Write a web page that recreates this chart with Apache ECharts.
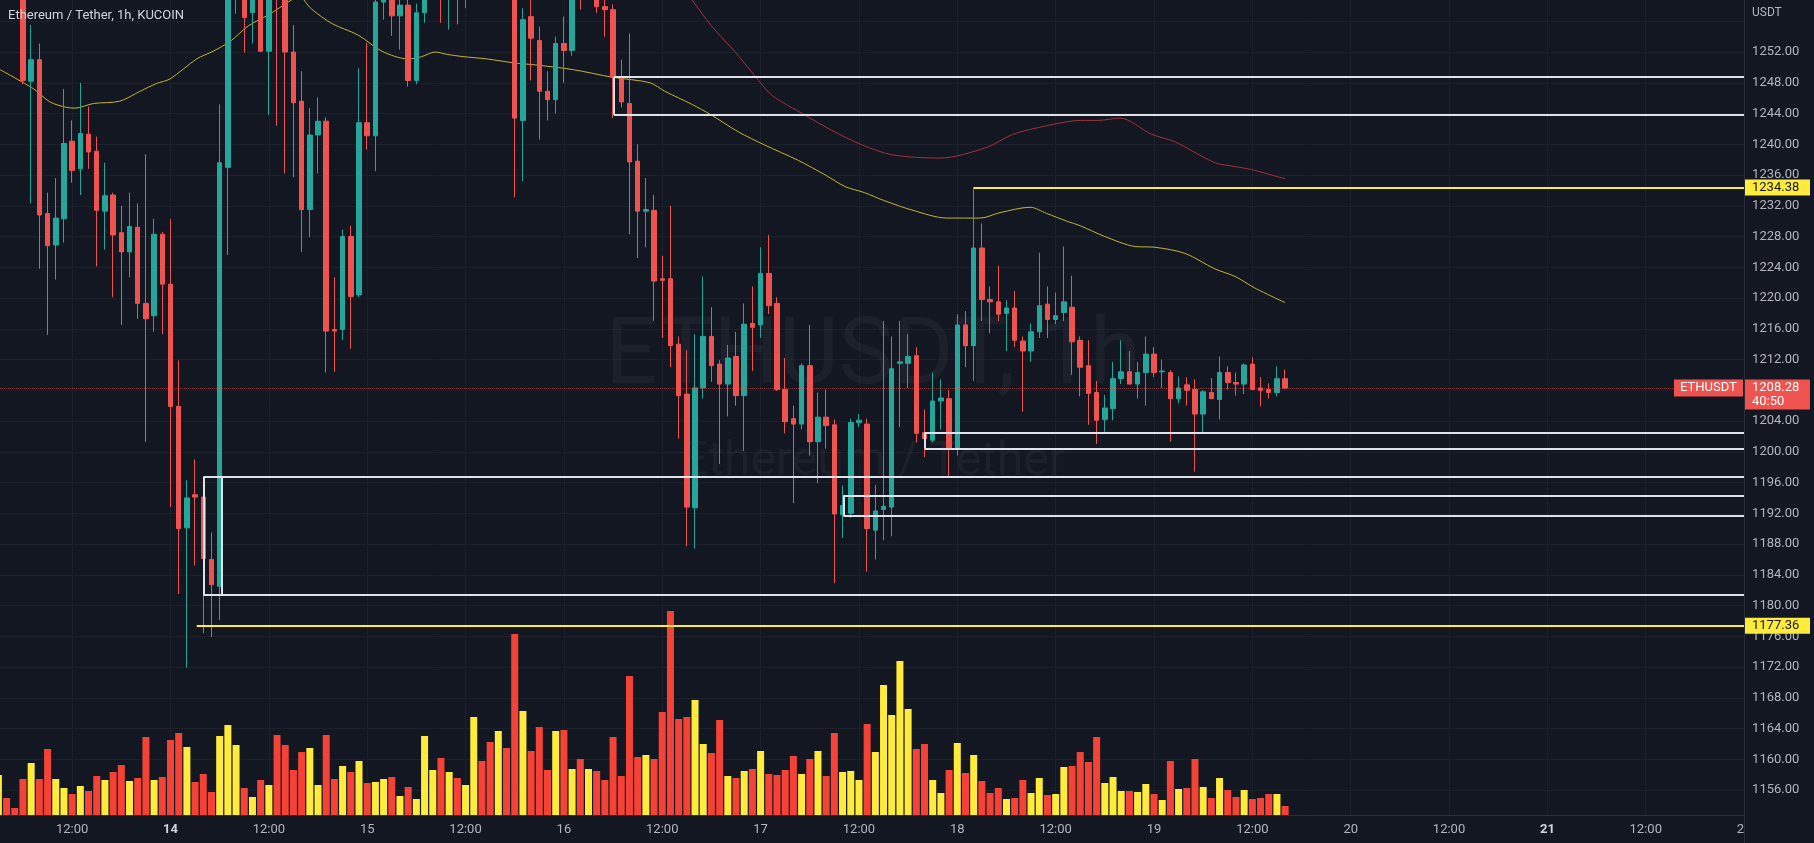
<!DOCTYPE html>
<html><head><meta charset="utf-8">
<script src="https://cdn.jsdelivr.net/npm/echarts@6/dist/echarts.min.js"></script>
<style>html,body{margin:0;padding:0;background:#131722;overflow:hidden}#c{width:1814px;height:843px}</style>
</head><body><div id="c"></div><script>
// ---------- DATA (hour 0 = Nov 14 00:00) ----------
const firstHour = -21;
const opens = [
1266,1270,1267,1264,1248.2,1251.0,1231.0,1226.9,1230.3,1240.4,
1236.8,1241.3,1239.1,1231.3,1233.4,1228.5,1226.0,1229.2,1219.3,1217.7,
1228.3,1221.8,1205.9,1190.1,1194.4,1194.1,1186.0,1182.5,1237.0,1262.0,
1266.5,1257.1,1263.0,1252.1,1264.0,1261.0,1252.0,1245.6,1231.5,1241.2,
1243.0,1215.9,1215.9,1228.0,1220.4,1242.8,1241.1,1258.5,1261.0,1256.7,
1258.1,1248.3,1257.1,1262.0,1266.0,1260.0,1263.0,1260.5,1264.0,1272.0,
1268.0,1263.0,1269.0,1264.0,1243.1,1256.6,1253.5,1246.9,1245.8,1253.1,
1252.2,1262.0,1260.0,1263.0,1257.9,1257.5,1248.6,1245.3,1237.8,1231.3,
1231.4,1222.5,1222.5,1214.0,1207.5,1192.7,1208.3,1215.0,1211.4,1208.8,
1212.4,1207.3,1216.7,1216.5,1223.2,1219.3,1208.1,1204.3,1203.6,1211.2,
1201.3,1204.5,1203.5,1191.8,1192.0,1203.8,1203.6,1189.8,1192.5,1192.8,
1211.5,1211.5,1212.5,1202.5,1201.5,1206.6,1206.9,1200.4,1216.5,1213.8,
1226.5,1219.8,1219.5,1218.0,1218.7,1214.4,1213.1,1215.6,1219.2,1217.2,
1218.1,1218.8,1214.5,1211.2,1207.7,1204.2,1205.6,1209.5,1210.4,1208.8,
1210.3,1212.7,1210.4,1210.3,1206.9,1208.7,1208.1,1204.9,1207.7,1206.8,
1210.3,1209.0,1208.8,1211.4,1208.3,1208.1,1207.7,1209.5];
const closes = [
1270,1267,1264,1248.3,1251.0,1230.8,1226.8,1230.4,1240.1,1236.6,
1241.4,1239.0,1231.4,1233.3,1228.2,1226.0,1229.3,1219.3,1217.3,1228.3,
1221.8,1205.9,1190.0,1194.0,1194.1,1186.1,1182.7,1237.6,1262.0,1266.5,
1256.5,1263.0,1252.1,1264.0,1261.0,1252.0,1245.4,1231.5,1241.2,1243.0,
1215.7,1215.7,1228.0,1220.2,1242.8,1241.1,1258.5,1261.0,1256.7,1258.1,
1248.3,1257.1,1262.0,1266.0,1260.0,1263.0,1260.5,1264.0,1272.0,1268.0,
1263.0,1269.0,1264.0,1243.4,1256.2,1253.8,1246.9,1245.8,1253.1,1252.2,
1262.0,1260.0,1263.0,1257.9,1257.5,1248.7,1245.5,1237.7,1231.3,1231.5,
1222.2,1222.3,1213.8,1207.3,1192.8,1208.3,1215.0,1211.2,1208.8,1212.2,
1207.3,1216.6,1216.2,1223.2,1219.0,1208.1,1203.9,1203.6,1211.2,1201.3,
1204.5,1203.4,1191.9,1193.0,1203.8,1204.1,1190.0,1192.3,1192.9,1210.8,
1211.7,1212.4,1202.4,1201.7,1206.6,1207.0,1200.4,1216.5,1213.8,1226.5,
1219.8,1219.5,1217.9,1218.7,1214.5,1213.1,1215.6,1219.0,1217.2,1217.7,
1219.5,1214.3,1211.0,1207.6,1204.1,1205.7,1209.5,1210.4,1208.8,1210.3,
1212.7,1210.3,1210.5,1206.9,1208.3,1208.0,1204.9,1207.8,1206.9,1210.3,
1209.0,1208.8,1211.3,1208.1,1208.0,1207.7,1209.5,1208.28];
const lows = [
1264,1265,1261,1247.8,1232.3,1223.8,1215.2,1222.4,1227.2,1235.0,
1233.4,1236.8,1224.1,1226.3,1220.1,1216.5,1222.7,1217.3,1201.3,1215.6,
1215.3,1192.8,1181.5,1171.9,1185.2,1176.4,1175.9,1178.1,1225.6,1257.0,
1251.9,1253.1,1252.0,1243.8,1242.4,1236.2,1235.7,1226.0,1227.9,1236.2,
1210.3,1210.4,1214.5,1213.4,1220.1,1239.3,1236.5,1256.2,1254.1,1252.3,
1247.5,1247.8,1255.8,1260.0,1255.8,1254.9,1255.6,1257.7,1262.0,1265.0,
1260.0,1261.0,1261.0,1233.1,1235.2,1248.3,1240.6,1243.1,1244.0,1248.0,
1251.5,1257.5,1259.2,1257.1,1254.0,1243.4,1244.8,1228.3,1225.2,1226.6,
1217.0,1214.8,1211.0,1201.7,1187.7,1187.4,1206.9,1209.1,1198.4,1204.6,
1206.0,1200.1,1210.5,1214.8,1217.9,1207.9,1202.4,1193.3,1202.9,1199.5,
1195.9,1200.4,1182.9,1188.8,1191.4,1203.2,1184.4,1186.0,1188.5,1189.0,
1203.2,1208.3,1201.2,1199.3,1201.2,1202.9,1196.8,1199.5,1211.0,1209.2,
1217.0,1215.4,1217.0,1213.1,1213.6,1205.2,1211.7,1214.8,1214.8,1216.6,
1217.0,1210.0,1207.2,1203.5,1201.0,1202.6,1204.1,1208.8,1208.8,1206.9,
1206.0,1209.7,1208.3,1201.3,1206.3,1206.0,1197.4,1202.4,1206.9,1204.2,
1208.1,1207.3,1207.5,1208.0,1205.9,1206.9,1207.2,1208.2];
const highs = [
1272,1273,1268,1265,1255.5,1253.1,1233.7,1235.6,1247.2,1243.1,
1248.0,1244.9,1241.0,1237.6,1233.7,1232.0,1233.7,1232.3,1238.7,1230.3,
1228.6,1230.3,1211.9,1196.3,1199.0,1195.0,1189.5,1245.2,1266.0,1270.0,
1268.0,1265.0,1264.5,1267.0,1266.0,1263.0,1255.5,1249.5,1244.7,1246.1,
1243.5,1222.7,1228.9,1229.4,1249.9,1253.2,1261.0,1263.0,1262.0,1261.0,
1260.0,1258.3,1264.0,1268.0,1267.0,1265.0,1264.0,1265.0,1274.0,1275.0,
1270.0,1272.0,1271.0,1266.0,1257.7,1260.0,1255.3,1249.5,1254.0,1256.6,
1264.0,1265.0,1264.5,1264.0,1260.0,1258.2,1251.0,1254.4,1240.0,1235.6,
1233.4,1225.5,1232.0,1215.0,1213.2,1215.3,1222.8,1218.8,1211.9,1213.9,
1215.6,1219.3,1221.5,1226.6,1228.2,1220.1,1212.2,1206.0,1211.5,1216.5,
1207.7,1208.1,1204.2,1195.6,1204.3,1204.9,1204.3,1195.7,1217.0,1215.0,
1217.0,1215.3,1213.6,1205.5,1210.3,1209.4,1208.0,1217.9,1218.3,1234.38,
1229.7,1221.5,1224.2,1219.7,1220.9,1215.0,1216.7,1225.9,1221.5,1220.7,
1226.7,1222.9,1215.0,1214.5,1209.2,1207.4,1211.7,1214.5,1213.1,1211.7,
1215.0,1213.6,1212.0,1210.6,1209.8,1209.7,1209.4,1208.0,1209.6,1212.4,
1211.1,1210.3,1211.5,1212.3,1209.7,1208.9,1211.1,1210.7];
const volumes = [
40,17,7,36,52,36,66,36,27,21,
29,24,39,35,43,50,34,37,78,35,
38,75,82,68,33,41,23,79,90,70,
27,18,35,30,80,70,45,63,67,30,
80,36,49,43,54,32,33,36,38,19,
28,16,79,45,57,43,37,30,98,54,
73,84,67,181,104,64,88,45,84,85,
46,56,46,44,35,78,39,139,58,60,
56,103,204,96,98,115,71,62,95,39,
37,44,46,64,41,40,45,59,41,56,
64,39,82,43,44,35,91,63,130,100,
154,106,66,71,35,22,45,72,42,60,
34,22,27,16,17,35,22,37,20,21,
48,49,63,53,78,32,38,24,24,23,
31,21,15,54,26,27,56,28,17,37,
25,18,25,16,17,21,21,9];

// moving averages (hour, price)
const maYellowHours = [-20.8,-16.7,-14.7,-12.7,-11.65,-9.4,-6.2,-3.7,-1.7,-0.06,3.2,5.2,7.3,9.5,11.9,14.8,15.6,17.2,19.7,22.9,25.8,29.0,30.65,32.3,33.7,35.7,38.6,41.8,44.7,49.15,54.0,58.5,60.3,63.6,66.0,69.3,72.5,76.6,79.9,82.3,84.7,87.0,90.6,94.7,98.8,101.2,104.9,106.9,109.35,111.0,114.0,117.7,120.1,123.8,127.4,129.9,132.3,136.0];
const maYellowValues = [1249.7,1247.2,1245.5,1244.8,1244.7,1245.3,1245.6,1246.9,1247.9,1248.5,1251.1,1252.1,1253.4,1255.4,1256.8,1258.8,1259.3,1257.6,1255.7,1254.2,1252.1,1251.1,1251.4,1252.0,1251.7,1251.4,1251.1,1250.6,1250.3,1249.7,1248.7,1248.0,1246.9,1245.2,1243.8,1241.6,1239.9,1237.9,1236.0,1234.5,1233.7,1232.7,1231.4,1230.4,1230.4,1231.1,1231.8,1231.0,1230.0,1229.4,1228.0,1226.7,1226.6,1225.8,1223.8,1222.8,1221.3,1219.4];
const maRedHours = [56,63.6,66.0,68.9,71.3,73.35,77.4,80.7,84.4,88.2,93.9,99.6,102.8,106.9,111.0,113.2,115.85,119.7,122.6,127.4,129.9,131.9,136.0];
const maRedValues = [1269,1258.8,1255.4,1252.0,1248.9,1246.4,1243.8,1241.8,1239.9,1238.6,1238.2,1239.6,1241.3,1242.4,1243.1,1243.1,1243.4,1241.3,1240.3,1237.6,1237.1,1236.7,1235.5];

// supply/demand zones (white), key levels (yellow)
const zoneTops = [1248.75, 1196.75, 1194.3, 1202.5];
const zoneBottoms = [1243.85, 1181.4, 1191.7, 1200.45];
const zoneStartHours = [54.1, 4.0, 82.1, 92.0];
const zoneEndHours = [null, 6.2, null, null];
const levelPrices = [1234.38, 1177.36];
const levelStartHours = [98.0, 3.2];
const lastPrice = 1208.28;
const lastCountdown = '40:50';
const symbolName = 'ETHUSDT';

// axis tick labels
const dayOfMonth = [13, 14, 15, 16, 17, 18, 19, 20, 21, 22]; // at hours -24, 0, 24, ...
const boldDays = [14, 21];
const titleText = 'Ethereum / Tether, 1h, KUCOIN';

// ---------- STYLE ----------
const BG = '#131722', UP = '#26a69a', DOWN = '#ef5350';
const VOL_UP = '#ffeb3b', VOL_DOWN = '#f44336';
const GRID_LINE = '#1c202b', TXT = '#b2b5be';
const X_MIN = -24, X_MAX = 192;
const GL = -26.2, GR = 69.9;

const hours = opens.map((_, i) => firstHour + i);
const candleData = hours.map((h, i) => [h, opens[i], closes[i], lows[i], highs[i]]);

const markData = [];
const zoneStyle = {color: '#dfe2e8', width: 2, type: 'solid'};
zoneTops.forEach((top, i) => {
  const s = zoneStartHours[i], b = zoneBottoms[i];
  markData.push([{coord: [s, top], lineStyle: zoneStyle}, {coord: [X_MAX, top]}]);
  markData.push([{coord: [s, b], lineStyle: zoneStyle}, {coord: [X_MAX, b]}]);
  markData.push([{coord: [s, top], lineStyle: zoneStyle}, {coord: [s, b]}]);
  if (zoneEndHours[i] != null) markData.push([{coord: [zoneEndHours[i], top], lineStyle: zoneStyle}, {coord: [zoneEndHours[i], b]}]);
});
levelPrices.forEach((p, i) => {
  markData.push([{coord: [levelStartHours[i], p], lineStyle: {color: '#ffeb3b', width: 2, type: 'solid'}}, {coord: [X_MAX, p]}]);
});
markData.push({yAxis: lastPrice, lineStyle: {color: 'rgba(239,83,80,0.6)', width: 1, type: 'dotted'}});

const chart = echarts.init(document.getElementById('c'));
const option = {
  backgroundColor: BG,
  animation: false,
  grid: [
    {left: GL, right: GR, top: -9.5, bottom: 22.25, containLabel: false, outerBoundsMode: 'none'},
    {left: GL, right: GR, top: 0, bottom: 28, containLabel: false, outerBoundsMode: 'none'}
  ],
  xAxis: [
    {type: 'value', gridIndex: 0, min: X_MIN, max: X_MAX, show: false},
    {type: 'value', gridIndex: 1, min: X_MIN, max: X_MAX, interval: 12,
     axisLine: {show: false}, axisTick: {show: false},
     splitLine: {show: true, lineStyle: {color: GRID_LINE, width: 1}},
     axisLabel: {color: TXT, fontSize: 13, fontFamily: 'Roboto', margin: 8, showMinLabel: true, showMaxLabel: true, hideOverlap: false,
       formatter: v => {
         const r = ((v % 24) + 24) % 24;
         if (r === 12) return '12:00';
         const d = dayOfMonth[Math.round((v + 24) / 24)];
         return boldDays.includes(d) ? '{b|' + d + '}' : String(d);
       },
       rich: {b: {color: '#d1d4dc', fontSize: 13, fontFamily: 'Roboto', fontWeight: 'bold'}}}}
  ],
  yAxis: [
    {type: 'value', gridIndex: 0, position: 'right', min: 1152, max: 1260, interval: 4,
     axisLine: {show: false}, axisTick: {show: false},
     splitLine: {show: true, showMinLine: false, showMaxLine: false, lineStyle: {color: GRID_LINE, width: 1}},
     axisLabel: {color: TXT, fontSize: 13, fontFamily: 'Roboto', margin: 8,
       formatter: v => (v < 1156 || v > 1252) ? '' : v.toFixed(2)}},
    {type: 'value', gridIndex: 1, min: 0, max: 815, show: false}
  ],
  series: [
    {type: 'bar', xAxisIndex: 1, yAxisIndex: 1, barWidth: 7, silent: true, z: 1,
     data: hours.map((h, i) => [h, volumes[i]]),
     itemStyle: {color: p => closes[p.dataIndex] >= opens[p.dataIndex] ? VOL_UP : VOL_DOWN}},
    {type: 'line', xAxisIndex: 0, yAxisIndex: 0, silent: true, z: 2, showSymbol: false, symbol: 'none', smooth: 0.3,
     data: maYellowHours.map((h, i) => [h, maYellowValues[i]]), lineStyle: {color: '#c4b432', width: 1}},
    {type: 'line', xAxisIndex: 0, yAxisIndex: 0, silent: true, z: 2, showSymbol: false, symbol: 'none', smooth: 0.3,
     data: maRedHours.map((h, i) => [h, maRedValues[i]]), lineStyle: {color: '#a2323b', width: 1}},
    {type: 'candlestick', xAxisIndex: 0, yAxisIndex: 0, silent: true, z: 3, barWidth: 5,
     data: candleData, encode: {x: 0, y: [1, 2, 3, 4]},
     itemStyle: {color: UP, color0: DOWN, borderColor: UP, borderColor0: DOWN, borderWidth: 1},
     markLine: {silent: true, symbol: ['none', 'none'], animation: false, label: {show: false},
       emphasis: {disabled: true}, data: markData}}
  ]
};
chart.setOption(option);

const py = v => chart.convertToPixel({yAxisIndex: 0}, v);
const g = [];
g.push({type: 'text', x: 873, y: 360, z: 0, silent: true,
  style: {text: symbolName + ', 1h', fill: 'rgba(255,255,255,0.04)', font: '92px Roboto', align: 'center', verticalAlign: 'middle'}});
g.push({type: 'text', x: 873, y: 463, z: 0, silent: true,
  style: {text: 'Ethereum / Tether', fill: 'rgba(255,255,255,0.04)', font: '48px Roboto', align: 'center', verticalAlign: 'middle'}});
g.push({type: 'text', x: 8, y: 16, z: 100, silent: true,
  style: {text: titleText, fill: '#d1d4dc', font: '13px Roboto', align: 'left', verticalAlign: 'middle'}});
g.push({type: 'text', x: 1752, y: 13, z: 100, silent: true,
  style: {text: 'USDT', fill: TXT, font: '12px Roboto', align: 'left', verticalAlign: 'middle'}});
g.push({type: 'rect', z: 90, silent: true, shape: {x: 1744.5, y: 816, width: 70, height: 27}, style: {fill: BG}});
g.push({type: 'line', z: 95, silent: true, shape: {x1: 1744.5, y1: 0, x2: 1744.5, y2: 843}, style: {stroke: '#2a2e39', lineWidth: 1}});
g.push({type: 'line', z: 95, silent: true, shape: {x1: 0, y1: 815.5, x2: 1744.5, y2: 815.5}, style: {stroke: '#2a2e39', lineWidth: 1}});
levelPrices.forEach(p => {
  const y = py(p);
  g.push({type: 'rect', z: 100, silent: true, shape: {x: 1745, y: y - 8, width: 65, height: 16}, style: {fill: '#ffeb3b'}});
  g.push({type: 'text', z: 101, silent: true, x: 1752, y: y,
    style: {text: p.toFixed(2), fill: '#131722', font: '13px Roboto', align: 'left', verticalAlign: 'middle'}});
});
const yl = py(lastPrice);
g.push({type: 'rect', z: 100, silent: true, shape: {x: 1745, y: yl - 8.5, width: 65, height: 30}, style: {fill: DOWN}});
g.push({type: 'text', z: 101, silent: true, x: 1752, y: yl,
  style: {text: lastPrice.toFixed(2), fill: '#ffffff', font: '13px Roboto', align: 'left', verticalAlign: 'middle'}});
g.push({type: 'text', z: 101, silent: true, x: 1752, y: yl + 13.5,
  style: {text: lastCountdown, fill: '#ffffff', font: '13px Roboto', align: 'left', verticalAlign: 'middle'}});
g.push({type: 'rect', z: 100, silent: true, shape: {x: 1674, y: yl - 8.5, width: 69, height: 17}, style: {fill: DOWN}});
g.push({type: 'text', z: 101, silent: true, x: 1680, y: yl,
  style: {text: symbolName, fill: '#ffffff', font: '13px Roboto', align: 'left', verticalAlign: 'middle'}});
chart.setOption({graphic: {elements: g}});
</script></body></html>
